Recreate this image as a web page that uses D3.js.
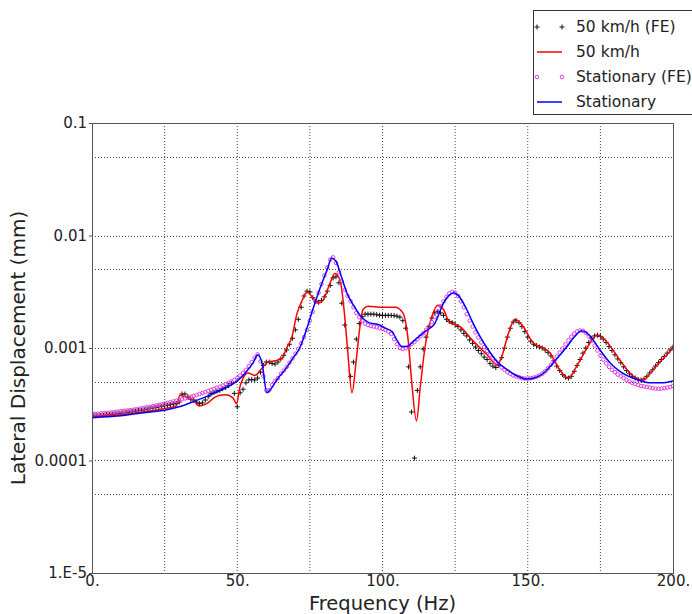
<!DOCTYPE html>
<html><head><meta charset="utf-8">
<script src="https://cdn.jsdelivr.net/npm/d3@7"></script>
<style>
html,body{margin:0;padding:0;background:#fff;}
svg{display:block;font-family:"DejaVu Sans",sans-serif;}
</style></head>
<body><svg id="chart" width="692" height="614"></svg>
<script>
// ---- Data ----
const seriesNames = ["50 km/h (FE)", "50 km/h", "Stationary (FE)", "Stationary"];
const xTicks = [0, 50, 100, 150, 200];
const xTickLabels = ["0.", "50.", "100.", "150.", "200."];
const yTicks = [0.1, 0.01, 0.001, 0.0001, 0.00001];
const yTickLabels = ["0.1", "0.01", "0.001", "0.0001", "1.E-5"];
const xGrid = [25, 50, 75, 100, 125, 150, 175];
const yGrid = [0.05, 0.01, 0.005, 0.001, 0.0005, 0.0001, 0.00005];

// FE results sampled every 1 Hz (0..200 Hz)
const feFreq = d3.range(0, 201, 1);
const fe50 = [
 2.5e-4,2.5e-4,2.5e-4,2.52e-4,2.53e-4,2.55e-4,2.56e-4,2.58e-4,2.6e-4,2.62e-4,
 2.64e-4,2.66e-4,2.68e-4,2.7e-4,2.72e-4,2.75e-4,2.78e-4,2.8e-4,2.83e-4,2.86e-4,
 2.9e-4,2.93e-4,2.96e-4,3.0e-4,3.03e-4,3.07e-4,3.1e-4,3.14e-4,3.18e-4,3.22e-4,
 3.3e-4,3.9e-4,3.9e-4,3.7e-4,3.5e-4,3.45e-4,3.3e-4,3.2e-4,3.25e-4,3.45e-4,
 3.7e-4,3.95e-4,4.05e-4,4.15e-4,4.2e-4,4.35e-4,4.45e-4,4.65e-4,4.85e-4,3.95e-4,
 3.0e-4,4.0e-4,4.3e-4,4.9e-4,5.2e-4,5.25e-4,5.2e-4,5.4e-4,6.1e-4,7.0e-4,
 7.5e-4,7.5e-4,7.3e-4,7.2e-4,7.5e-4,8.0e-4,8.6e-4,9.6e-4,1.08e-3,1.22e-3,
 1.45e-3,1.8e-3,2.3e-3,2.9e-3,3.2e-3,3.15e-3,2.8e-3,2.6e-3,2.55e-3,2.65e-3,
 2.85e-3,3.2e-3,3.6e-3,4.2e-3,4.3e-3,3.8e-3,2.5e-3,1.6e-3,1.0e-3,5.6e-4,
 7.5e-4,1.2e-3,1.65e-3,1.9e-3,2.0e-3,2.0e-3,2.0e-3,2.0e-3,1.98e-3,1.96e-3,
 1.95e-3,1.95e-3,1.95e-3,1.95e-3,1.94e-3,1.92e-3,1.88e-3,1.75e-3,1.5e-3,6.8e-4,
 2.7e-4,1.05e-4,4.2e-4,6.8e-4,9.8e-4,1.25e-3,1.55e-3,1.85e-3,2.05e-3,2.1e-3,
 2.05e-3,1.95e-3,1.8e-3,1.72e-3,1.68e-3,1.62e-3,1.55e-3,1.45e-3,1.35e-3,1.28e-3,
 1.18e-3,1.1e-3,1.02e-3,9.5e-4,8.9e-4,8.3e-4,7.9e-4,7.3e-4,6.9e-4,6.7e-4,
 7.0e-4,8.2e-4,1.0e-3,1.25e-3,1.5e-3,1.7e-3,1.75e-3,1.68e-3,1.55e-3,1.4e-3,
 1.25e-3,1.15e-3,1.08e-3,1.05e-3,1.02e-3,1.0e-3,9.6e-4,9.1e-4,8.5e-4,7.7e-4,
 6.9e-4,6.3e-4,5.8e-4,5.5e-4,5.4e-4,5.6e-4,6.2e-4,7.0e-4,7.9e-4,9.0e-4,
 1.0e-3,1.12e-3,1.22e-3,1.28e-3,1.3e-3,1.27e-3,1.2e-3,1.12e-3,1.03e-3,9.5e-4,
 8.7e-4,8.0e-4,7.4e-4,6.8e-4,6.3e-4,5.9e-4,5.6e-4,5.4e-4,5.25e-4,5.2e-4,
 5.3e-4,5.6e-4,6.0e-4,6.4e-4,6.9e-4,7.4e-4,7.9e-4,8.4e-4,9.0e-4,9.6e-4,1.02e-3
];
const feStat = [
 2.6e-4,2.6e-4,2.6e-4,2.62e-4,2.63e-4,2.65e-4,2.66e-4,2.68e-4,2.7e-4,2.72e-4,
 2.74e-4,2.76e-4,2.78e-4,2.8e-4,2.82e-4,2.85e-4,2.88e-4,2.91e-4,2.94e-4,2.97e-4,
 3.0e-4,3.04e-4,3.08e-4,3.12e-4,3.16e-4,3.2e-4,3.25e-4,3.3e-4,3.35e-4,3.4e-4,
 3.45e-4,3.5e-4,3.56e-4,3.62e-4,3.68e-4,3.75e-4,3.82e-4,3.9e-4,3.98e-4,4.06e-4,
 4.15e-4,4.24e-4,4.33e-4,4.43e-4,4.53e-4,4.64e-4,4.76e-4,4.9e-4,5.05e-4,5.2e-4,
 5.4e-4,5.7e-4,6.0e-4,6.4e-4,6.9e-4,7.5e-4,8.2e-4,8.8e-4,7.6e-4,5.6e-4,
 4.2e-4,4.2e-4,4.7e-4,5.1e-4,5.4e-4,5.9e-4,6.3e-4,6.8e-4,7.4e-4,8.1e-4,
 8.9e-4,9.8e-4,1.1e-3,1.25e-3,1.45e-3,1.75e-3,2.1e-3,2.6e-3,3.1e-3,3.7e-3,
 4.4e-3,5.2e-3,6.1e-3,6.4e-3,5.7e-3,4.7e-3,3.9e-3,3.3e-3,2.9e-3,2.6e-3,
 2.3e-3,2.05e-3,1.88e-3,1.75e-3,1.65e-3,1.6e-3,1.57e-3,1.55e-3,1.53e-3,1.5e-3,
 1.48e-3,1.45e-3,1.4e-3,1.33e-3,1.2e-3,1.08e-3,1.0e-3,9.8e-4,1.0e-3,1.03e-3,
 1.08e-3,1.13e-3,1.2e-3,1.27e-3,1.35e-3,1.45e-3,1.55e-3,1.7e-3,1.88e-3,2.1e-3,
 2.35e-3,2.6e-3,2.85e-3,3.05e-3,3.15e-3,3.1e-3,2.9e-3,2.6e-3,2.3e-3,2.0e-3,
 1.75e-3,1.55e-3,1.38e-3,1.24e-3,1.12e-3,1.02e-3,9.4e-4,8.7e-4,8.1e-4,7.6e-4,
 7.1e-4,6.7e-4,6.4e-4,6.1e-4,5.9e-4,5.7e-4,5.6e-4,5.5e-4,5.4e-4,5.35e-4,
 5.35e-4,5.4e-4,5.45e-4,5.55e-4,5.7e-4,5.9e-4,6.2e-4,6.6e-4,7.1e-4,7.7e-4,
 8.4e-4,9.1e-4,9.9e-4,1.08e-3,1.17e-3,1.26e-3,1.34e-3,1.4e-3,1.43e-3,1.42e-3,
 1.36e-3,1.27e-3,1.16e-3,1.05e-3,9.5e-4,8.6e-4,7.9e-4,7.3e-4,6.8e-4,6.4e-4,
 6.1e-4,5.8e-4,5.6e-4,5.4e-4,5.2e-4,5.05e-4,4.9e-4,4.8e-4,4.7e-4,4.6e-4,
 4.55e-4,4.5e-4,4.45e-4,4.4e-4,4.35e-4,4.35e-4,4.35e-4,4.4e-4,4.45e-4,4.5e-4,4.6e-4
];

// Analytical curves
const red50Freq = [0,5,10,15,20,25,29,30.3,32,34.8,37,39.5,42,44,46,48.5,49.8,50.8,52,53.7,56,58.5,60.6,63,65.4,67,68.8,70.5,72.5,74,76,77.8,79.5,82,83.6,85.4,87,88,89.5,91,92.3,93.3,95,99.8,104.3,107,108.8,110,111.7,113,114.6,117,119,121,123,126.7,131,136,139.4,141,143,145.6,148.4,152,155.4,157.7,161,164,167,170.4,173.8,177,181.7,186,189.7,193,196.5,200];
const red50Val = [2.45e-4,2.5e-4,2.55e-4,2.65e-4,2.75e-4,2.9e-4,3.05e-4,3.8e-4,3.7e-4,3.45e-4,3.05e-4,3.2e-4,3.6e-4,3.8e-4,3.85e-4,3.6e-4,3.2e-4,4.4e-4,5.4e-4,6.0e-4,5.7e-4,6.6e-4,7.5e-4,7.7e-4,8.1e-4,1.0e-3,1.25e-3,2.0e-3,2.7e-3,3.15e-3,2.8e-3,2.5e-3,2.65e-3,3.8e-3,4.6e-3,4.0e-3,1.9e-3,9.5e-4,4.0e-4,8.0e-4,1.6e-3,2.2e-3,2.35e-3,2.3e-3,2.3e-3,2.05e-3,1.2e-3,5.2e-4,2.25e-4,4.5e-4,1.0e-3,1.9e-3,2.4e-3,2.2e-3,1.7e-3,1.55e-3,1.17e-3,8.7e-4,7.1e-4,8.3e-4,1.26e-3,1.8e-3,1.55e-3,1.1e-3,1.0e-3,9.0e-4,6.4e-4,5.4e-4,7.0e-4,1.0e-3,1.3e-3,1.15e-3,7.8e-4,5.7e-4,5.2e-4,6.4e-4,8.0e-4,1.0e-3];
const statFreq = [0,5,10,15,20,25,30,35,40,45,50,53,55.5,57,58.5,60.2,61.5,63.6,67,69,71.5,74,76,78.5,81,82.5,84,85.5,87.7,90,92.3,95,99,101,103.3,105,106.7,108.4,111,114.6,118,121,123,124.5,126,129,131,133.6,136,139.4,143,146,149.7,153,155.5,157.6,160.5,163.4,166,168.6,170.5,172.5,175,178.3,181,184,188,192,196,200];
const statVal = [2.4e-4,2.45e-4,2.5e-4,2.6e-4,2.7e-4,2.8e-4,3.0e-4,3.35e-4,3.75e-4,4.3e-4,5.1e-4,6.1e-4,7.4e-4,8.7e-4,7.4e-4,4.0e-4,4.3e-4,5.2e-4,6.7e-4,8.0e-4,1.0e-3,1.5e-3,2.2e-3,3.4e-3,5.0e-3,6.3e-3,5.9e-3,4.6e-3,3.1e-3,2.4e-3,1.95e-3,1.7e-3,1.6e-3,1.5e-3,1.4e-3,1.17e-3,1.03e-3,1.03e-3,1.17e-3,1.4e-3,1.65e-3,2.5e-3,2.95e-3,3.1e-3,2.95e-3,2.2e-3,1.7e-3,1.26e-3,1.0e-3,7.6e-4,6.4e-4,5.7e-4,5.3e-4,5.5e-4,6.0e-4,6.8e-4,8.3e-4,1.02e-3,1.25e-3,1.42e-3,1.35e-3,1.18e-3,9.5e-4,7.4e-4,6.4e-4,5.7e-4,5.2e-4,4.9e-4,4.9e-4,5.1e-4];

// ---- Drawing ----
const svg = d3.select("#chart");
const m = {left: 92, right: 673, top: 123, bottom: 573};
const x = d3.scaleLinear().domain([0, 200]).range([m.left, m.right]);
const y = d3.scaleLog().domain([1e-5, 0.1]).range([m.bottom, m.top]);

const gridColor = "#444";
const g = svg.append("g");
g.selectAll("line.vg").data(xGrid).join("line").attr("class","vg")
  .attr("x1", d => x(d)).attr("x2", d => x(d)).attr("y1", m.top).attr("y2", m.bottom)
  .attr("stroke", gridColor).attr("stroke-width", 1).attr("stroke-dasharray", "1,2");
g.selectAll("line.hg").data(yGrid).join("line").attr("class","hg")
  .attr("x1", m.left).attr("x2", m.right).attr("y1", d => Math.round(y(d)) + 0.5).attr("y2", d => Math.round(y(d)) + 0.5)
  .attr("stroke", gridColor).attr("stroke-width", 1).attr("stroke-dasharray", "1,2");

// Axes via d3 axis generators
const xAxis = d3.axisBottom(x).tickValues(xTicks).tickSize(0).tickPadding(2)
  .tickFormat((d, i) => xTickLabels[i]);
const yAxis = d3.axisLeft(y).tickValues(yTicks).tickSize(3).tickPadding(2)
  .tickFormat((d, i) => yTickLabels[i]);
const gx = svg.append("g").attr("transform", `translate(0,${m.bottom})`).call(xAxis);
const gy = svg.append("g").attr("transform", `translate(${m.left},0)`).call(yAxis);
[gx, gy].forEach(a => {
  a.select(".domain").remove();
  a.selectAll("text").attr("font-family", "DejaVu Sans").attr("font-size", 15).attr("fill", "#222");
  a.selectAll("line").attr("stroke", "#555");
});

// Clip for data
svg.append("clipPath").attr("id", "clip").append("rect")
  .attr("x", m.left).attr("y", m.top).attr("width", m.right - m.left).attr("height", m.bottom - m.top);
const plot = svg.append("g").attr("clip-path", "url(#clip)");

const lineGen = d3.line().x(d => x(d[0])).y(d => y(d[1])).curve(d3.curveMonotoneX);

// 50 km/h FE (black pluses)
plot.append("g").selectAll("path").data(d3.zip(feFreq, fe50)).join("path")
  .attr("transform", d => `translate(${x(d[0])},${y(d[1])})`)
  .attr("d", "M-2.5,0H2.5M0,-2.5V2.5").attr("stroke", "#111").attr("stroke-width", 1).attr("fill", "none");
// 50 km/h line (red)
plot.append("path").datum(d3.zip(red50Freq, red50Val)).attr("d", lineGen)
  .attr("fill", "none").attr("stroke", "#ff0000").attr("stroke-width", 1.5);
// Stationary FE (magenta circles)
plot.append("g").selectAll("circle").data(d3.zip(feFreq, feStat)).join("circle")
  .attr("cx", d => x(d[0])).attr("cy", d => y(d[1])).attr("r", 1.8)
  .attr("fill", "none").attr("stroke", "#e23de2").attr("stroke-width", 1);
// Stationary line (blue)
plot.append("path").datum(d3.zip(statFreq, statVal)).attr("d", lineGen)
  .attr("fill", "none").attr("stroke", "#0000ff").attr("stroke-width", 1.5);

// Frame
svg.append("rect").attr("x", m.left + 0.5).attr("y", m.top + 0.5)
  .attr("width", m.right - m.left).attr("height", m.bottom - m.top)
  .attr("fill", "none").attr("stroke", "#555").attr("stroke-width", 1);

// Axis titles
svg.append("text").attr("x", (m.left + m.right) / 2).attr("y", 610)
  .attr("text-anchor", "middle").attr("font-size", 19.5).attr("fill", "#222").text("Frequency (Hz)");
svg.append("text").attr("transform", "translate(25,348) rotate(-90)")
  .attr("text-anchor", "middle").attr("font-size", 20).attr("fill", "#222").text("Lateral Displacement (mm)");

// Legend
const lg = svg.append("g");
lg.append("rect").attr("x", 533.5).attr("y", 10.5).attr("width", 200).attr("height", 104)
  .attr("fill", "#fff").attr("stroke", "#333").attr("stroke-width", 1);
const rowY = [27, 52, 77, 102];
seriesNames.forEach((name, i) => {
  const yy = rowY[i];
  if (i === 0) {
    [537, 562].forEach(px => lg.append("path").attr("transform", `translate(${px},${yy})`)
      .attr("d", "M-2.5,0H2.5M0,-2.5V2.5").attr("stroke", "#111").attr("fill", "none"));
  } else if (i === 2) {
    [537, 562].forEach(px => lg.append("circle").attr("cx", px).attr("cy", yy).attr("r", 1.8)
      .attr("fill", "none").attr("stroke", "#e23de2"));
  } else {
    lg.append("line").attr("x1", 537).attr("x2", 562).attr("y1", yy).attr("y2", yy)
      .attr("stroke", i === 1 ? "#ff0000" : "#0000ff").attr("stroke-width", 1.5);
  }
  lg.append("text").attr("x", 576).attr("y", yy).attr("dy", "0.35em")
    .attr("font-size", 15.5).attr("fill", "#222").text(name);
});
</script></body></html>
